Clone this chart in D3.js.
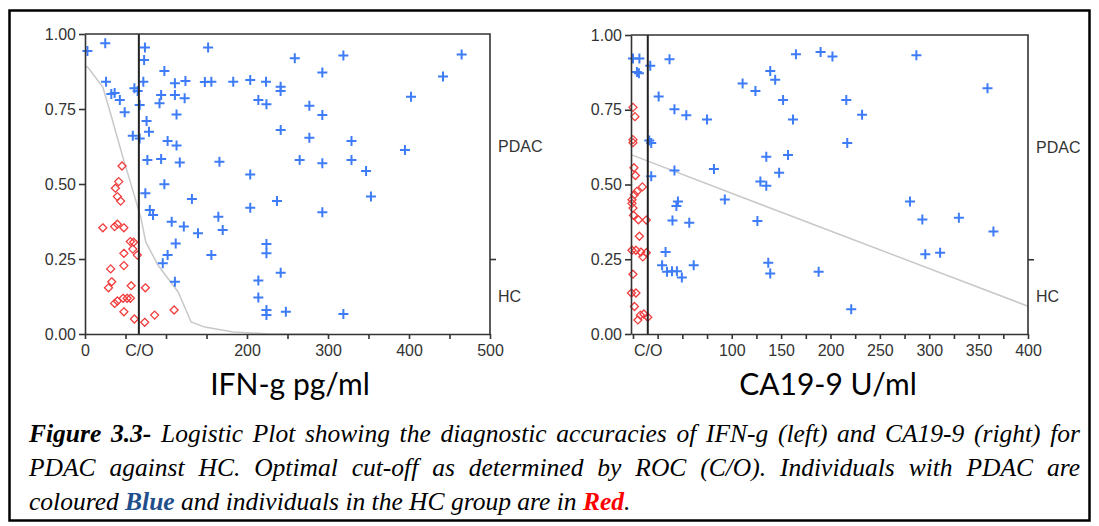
<!DOCTYPE html>
<html>
<head>
<meta charset="utf-8">
<script src="https://cdn.jsdelivr.net/npm/d3@7"></script>
<style>
  body { margin: 0; background: #fff; }
  svg text { font-family: "Liberation Sans", Arial, sans-serif; }
</style>
</head>
<body>
<svg width="1099" height="526"></svg>
<script>
// ---- data ----
// IFN-g panel: [value pg/ml, probability]
var ifnPdac = [
  [3,0.943],[25,0.969],[74,0.955],[152,0.955],[73,0.913],[98,0.877],[26,0.841],[72,0.841],
  [111,0.836],[124,0.843],[148,0.84],[156,0.841],[32.5,0.80],[36.6,0.803],[43,0.78],[61,0.819],
  [65,0.81],[94,0.797],[111,0.797],[123,0.786],[92,0.769],[49,0.739],[67.5,0.763],[113,0.732],
  [76,0.71],[79,0.674],[59,0.661],[67.5,0.652],[102,0.643],[113,0.628],[77,0.58],[94,0.583],
  [117,0.572],[98,0.499],[74.5,0.469],[132,0.45],[80,0.413],[84,0.397],[107,0.374],[122,0.358],
  [139.5,0.336],[112,0.302],[102,0.263],[96,0.236],[156,0.263],[111,0.174],
  [259,0.919],[319,0.928],[465,0.932],[293,0.872],[442,0.858],[183,0.841],[204,0.847],[223.5,0.841],
  [241.5,0.824],[241.5,0.81],[214,0.78],[224,0.766],[277,0.761],[293,0.73],[402.5,0.791],[241.6,0.68],
  [277,0.654],[329,0.643],[395,0.613],[166,0.574],[204,0.532],[265,0.58],[293,0.569],[329,0.58],
  [347,0.543],[353,0.458],[237,0.443],[204,0.421],[293,0.406],[164.6,0.391],[170,0.347],[224,0.30],
  [224,0.269],[241.6,0.204],[214,0.178],[214,0.122],[224,0.08],[224,0.063],[248,0.074],[319,0.067]
];
var ifnHc = [
  [45.7,0.56],[41.6,0.508],[37.5,0.486],[40,0.458],[44,0.443],[22,0.354],[36.6,0.358],[40,0.366],
  [48,0.354],[56,0.308],[60,0.306],[59,0.283],[64.6,0.263],[48,0.269],[48,0.228],[31.7,0.217],
  [33,0.174],[29,0.154],[57,0.161],[74.5,0.154],[36.6,0.102],[40,0.11],[47,0.119],[52,0.119],
  [56,0.119],[48,0.074],[61,0.05],[73.7,0.039],[86,0.063],[110,0.08]
];
var ifnCurve = [
  [0,0.895],[4,0.887],[22,0.823],[31,0.74],[47,0.587],[57,0.497],[69,0.387],[75,0.307],
  [90,0.23],[115,0.14],[131,0.04],[148,0.023],[183,0.007],[230,0.0],[300,0.0]
];
var ifnCut = 66.5;

// CA19-9 panel: [value U/ml, probability]
var caPdac = [
  [0,0.921],[6.5,0.921],[4,0.876],[6,0.872],[17.5,0.897],[37,0.919],[26,0.794],[42,0.752],
  [54,0.732],[75,0.717],[16.5,0.647],[18.5,0.639],[42,0.547],[82,0.552],[18.5,0.528],[93,0.45],
  [45.5,0.443],[44,0.428],[40,0.38],[57,0.372],[33,0.274],[29.5,0.23],[34.5,0.208],[39.5,0.21],
  [44.5,0.21],[49.5,0.189],[61.5,0.23],
  [165,0.936],[190,0.943],[202,0.928],[287,0.932],[139,0.88],[144,0.85],[111,0.838],[124,0.813],
  [359,0.822],[152,0.783],[216,0.783],[162,0.717],[232,0.733],[217,0.639],[135,0.593],[157,0.599],
  [148,0.539],[129,0.51],[135,0.496],[280.5,0.443],[293,0.383],[330,0.389],[365,0.343],[126,0.378],
  [137,0.238],[139,0.202],[188,0.208],[221,0.083],[296,0.267],[311,0.272]
];
var caHc = [
  [0,0.758],[2,0.727],[0,0.65],[0,0.64],[1,0.556],[2.5,0.53],[9.5,0.492],[4,0.477],[1.5,0.466],
  [-1,0.449],[-1,0.437],[0,0.421],[0.5,0.397],[5.5,0.382],[13.5,0.381],[6.5,0.327],[-1,0.28],
  [3,0.28],[8,0.274],[10,0.258],[13.5,0.272],[0,0.2],[-1.5,0.137],[3,0.137],[1.5,0.092],
  [7.5,0.063],[11,0.067],[15,0.056],[5,0.047]
];
var caCurve = [[-2,0.6],[113,0.454],[400,0.093]];
var caCut = 15;

// axes
var probTicks = [0, 0.25, 0.5, 0.75, 1];
var groupBoundary = 0.25;
var groupLabels = [["PDAC", 0.625], ["HC", 0.125]];
var ifnTicks = d3.range(0, 501, 50);
var ifnLabels = [0, 200, 300, 400, 500];
var caTicks = d3.range(0, 401, 25);
var caLabels = [100, 150, 200, 250, 300, 350, 400];

var caption = [
  [["Figure 3.3-", "bold"], [" Logistic Plot showing the diagnostic accuracies of IFN-g (left) and CA19-9 (right) for", ""]],
  [["PDAC against HC. Optimal cut-off as determined by ROC (C/O). Individuals with PDAC are", ""]],
  [["coloured ", ""], ["Blue", "blue"], [" and individuals in the HC group are in ", ""], ["Red", "red"], [".", ""]]
];

var svg = d3.select("svg");
var BLUE = "#3d7cf6", RED = "#f03c3c";

// outer box
svg.append("rect")
  .attr("x", 9.5).attr("y", 10.5).attr("width", 1080).attr("height", 510)
  .attr("fill", "none").attr("stroke", "#000").attr("stroke-width", 2.5);

function panel(o) {
  var x = d3.scaleLinear().domain(o.xDomain).range(o.xRange);
  var y = d3.scaleLinear().domain([0, 1]).range(o.yRange);
  var g = svg.append("g");

  // fitted curve
  g.append("path").datum(o.curve)
    .attr("fill", "none").attr("stroke", "#c8c8c8").attr("stroke-width", 1.5)
    .attr("d", d3.line().x(d => x(d[0])).y(d => y(d[1])));

  // points
  g.selectAll(".hc").data(o.hc).enter().append("path")
    .attr("transform", d => "translate(" + x(d[0]) + "," + y(d[1]) + ")")
    .attr("d", "M0,-4L4,0L0,4L-4,0Z")
    .attr("fill", "none").attr("stroke", RED).attr("stroke-width", 1.3);
  g.selectAll(".pd").data(o.pdac).enter().append("path")
    .attr("transform", d => "translate(" + x(d[0]) + "," + y(d[1]) + ")")
    .attr("d", "M-5,0H5M0,-5V5")
    .attr("stroke", BLUE).attr("stroke-width", 2);

  // cut-off line
  g.append("line")
    .attr("x1", x(o.cut)).attr("x2", x(o.cut))
    .attr("y1", o.yRange[0]).attr("y2", o.yRange[1])
    .attr("stroke", "#222").attr("stroke-width", 2);

  // frame
  g.append("path")
    .attr("d", "M" + o.xRange[0] + "," + o.yRange[1] + "H" + o.xRange[1] + "V" + o.yRange[0])
    .attr("fill", "none").attr("stroke", "#333").attr("stroke-width", 1.6);

  function style(a) {
    a.selectAll("path, line").attr("stroke", "#333").attr("stroke-width", 1.6);
    a.selectAll("text").attr("fill", "#333").attr("font-size", 16)
      .attr("font-family", "Liberation Sans, Arial, sans-serif");
  }

  g.append("g").attr("transform", "translate(" + o.xRange[0] + ",0)")
    .call(d3.axisLeft(y).tickValues(probTicks).tickFormat(d3.format(".2f")).tickSize(6).tickSizeOuter(0))
    .call(style);

  g.append("g").attr("transform", "translate(0," + o.yRange[0] + ")")
    .call(d3.axisBottom(x).tickValues(o.ticks).tickFormat("").tickSize(5).tickSizeOuter(0))
    .call(style);
  var lab = g.append("g").attr("transform", "translate(0," + o.yRange[0] + ")")
    .call(d3.axisBottom(x).tickValues([o.cut].concat(o.labels))
      .tickFormat(d => d === o.cut ? "C/O" : d).tickSize(0).tickPadding(11))
    .call(style);
  lab.select(".domain").remove();

  g.append("g").attr("transform", "translate(" + o.xRange[1] + ",0)")
    .call(d3.axisRight(y).tickValues([groupBoundary]).tickFormat("").tickSize(6).tickSizeOuter(0))
    .call(style)
    .select(".domain").remove();
  var grp = g.append("g").attr("transform", "translate(" + o.xRange[1] + ",0)")
    .call(d3.axisRight(y).tickValues(groupLabels.map(d => d[1]))
      .tickFormat((d, i) => groupLabels[i][0]).tickSize(0).tickPadding(8))
    .call(style);
  grp.select(".domain").remove();

  g.append("text")
    .attr("x", o.titleX).attr("y", 395)
    .attr("text-anchor", "middle")
    .style("font-family", "Lato, 'Open Sans', sans-serif")
    .attr("font-size", 30).attr("fill", "#000")
    .text(o.title);
}

panel({ xDomain: [0, 500], xRange: [85, 490], yRange: [334, 34],
  pdac: ifnPdac, hc: ifnHc, curve: ifnCurve, cut: ifnCut,
  ticks: ifnTicks, labels: ifnLabels, title: "IFN-g pg/ml", titleX: 290 });
panel({ xDomain: [-2, 400], xRange: [631, 1028], yRange: [334, 35],
  pdac: caPdac, hc: caHc, curve: caCurve, cut: caCut,
  ticks: caTicks, labels: caLabels, title: "CA19-9 U/ml", titleX: 828 });

// caption, first two lines justified
var capX = 29, capW = 1051;
caption.forEach(function (line, i) {
  var t = svg.append("text")
    .attr("x", capX).attr("y", 442 + i * 34)
    .style("font-family", "'Liberation Serif', 'Times New Roman', serif")
    .style("font-style", "italic").attr("font-size", 25.5).attr("fill", "#000");
  line.forEach(function (seg) {
    var s = t.append("tspan").text(seg[0]);
    if (seg[1]) s.attr("font-weight", "bold");
    if (seg[1] === "blue") s.attr("fill", "#1f4e8c");
    if (seg[1] === "red") s.attr("fill", "#ff0000");
  });
  if (i < 2) {
    var natural = t.node().getComputedTextLength();
    var gaps = line.map(s => s[0]).join("").split(" ").length - 1;
    t.style("word-spacing", Math.max(0, (capW - natural) / gaps) + "px");
  }
});
</script>
</body>
</html>
